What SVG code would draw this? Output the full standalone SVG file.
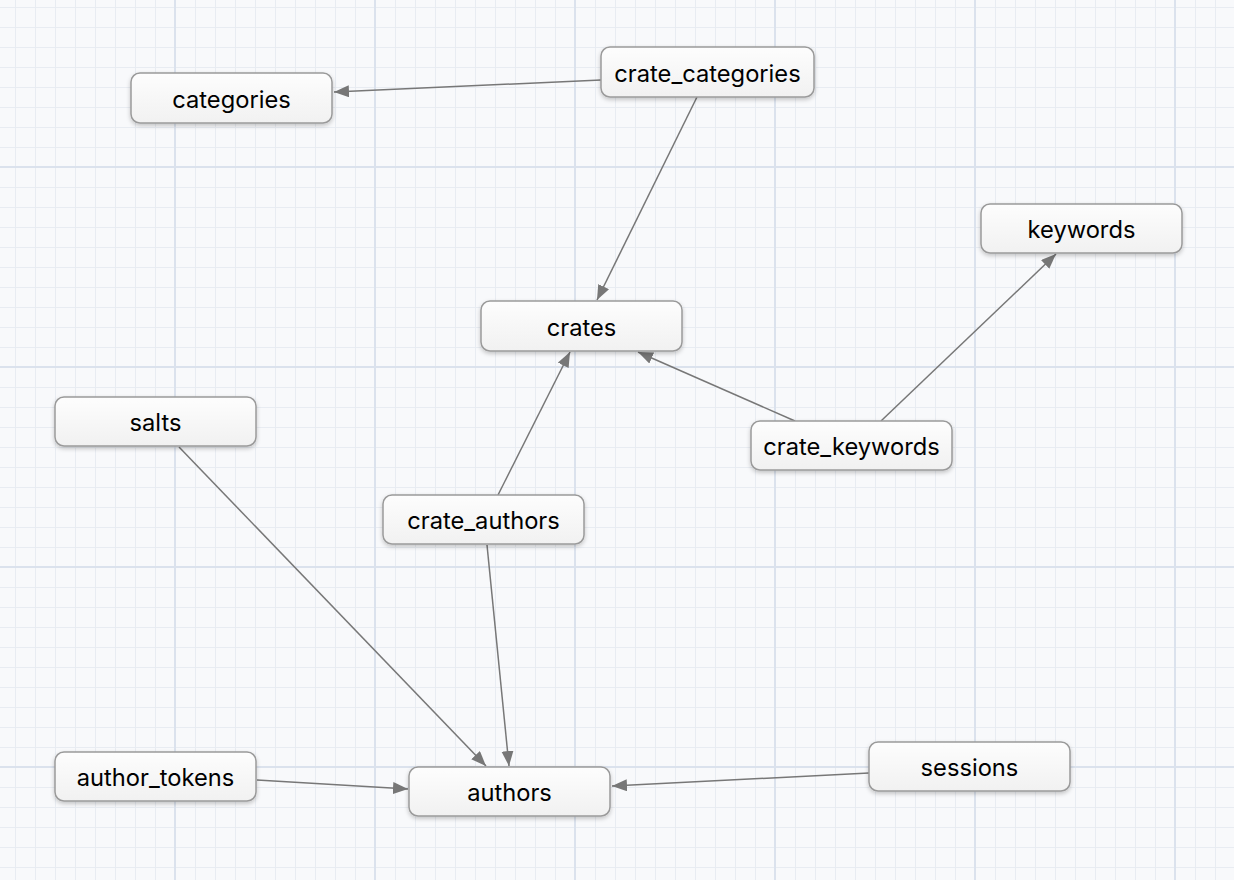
<svg xmlns="http://www.w3.org/2000/svg" width="1234" height="880" viewBox="0 0 1234 880">
<style>
.node rect{fill:url(#nodeFill);stroke:#9a9a9a;stroke-width:1.5;filter:url(#shadow)}
.node text{font-family:Inter,"Liberation Sans",Arial,sans-serif;font-size:23.7px;fill:#000;text-anchor:middle}
.edge{stroke:#777;stroke-width:1.5;fill:none;marker-end:url(#arrow)}
</style>
<defs>
<linearGradient id="nodeFill" x1="0" y1="0" x2="0" y2="1">
<stop offset="0" stop-color="#fdfdfd"/>
<stop offset="1" stop-color="#f1f1f1"/>
</linearGradient>
<filter id="shadow" x="-10%" y="-20%" width="120%" height="160%">
<feDropShadow dx="0" dy="2" stdDeviation="2" flood-color="#000" flood-opacity="0.22"/>
</filter>
<marker id="arrow" markerUnits="userSpaceOnUse" markerWidth="16" markerHeight="14" refX="15" refY="6" orient="auto">
<path d="M0,0 L15,6 L0,12 Z" fill="#777"/>
</marker>
<pattern id="minor" patternUnits="userSpaceOnUse" x="15" y="7" width="20" height="20">
<path d="M0.5,0 V20 M0,0.5 H20" stroke="#e8ecf2" stroke-width="1" fill="none"/>
</pattern>
<pattern id="major" patternUnits="userSpaceOnUse" x="174" y="166" width="200" height="200">
<path d="M1,0 V200 M0,1 H200" stroke="#dbe2ed" stroke-width="2" fill="none"/>
</pattern>
</defs>
<rect width="1234" height="880" fill="#f8f9fb"/>
<rect width="1234" height="880" fill="url(#minor)"/>
<rect width="1234" height="880" fill="url(#major)"/>
<g id="connectors">
<line class="edge" x1="601" y1="80" x2="334" y2="92"/>
<line class="edge" x1="697" y1="97" x2="597" y2="300"/>
<line class="edge" x1="795" y1="421" x2="638" y2="352"/>
<line class="edge" x1="881" y1="421" x2="1056" y2="254"/>
<line class="edge" x1="498" y1="495" x2="570" y2="352"/>
<line class="edge" x1="487" y1="545" x2="509" y2="766"/>
<line class="edge" x1="179" y1="447" x2="486" y2="766"/>
<line class="edge" x1="257" y1="780" x2="408" y2="789"/>
<line class="edge" x1="869" y1="773" x2="612" y2="786"/>
</g>
<g id="categories" class="node"><rect x="131" y="73" width="201" height="50" rx="9"/><text x="231.5" y="107.5">categories</text></g>
<g id="crate_categories" class="node"><rect x="601" y="47" width="213" height="50" rx="9"/><text x="707.5" y="81.5">crate_categories</text></g>
<g id="keywords" class="node"><rect x="981" y="204" width="201" height="49" rx="9"/><text x="1081.5" y="238">keywords</text></g>
<g id="crates" class="node"><rect x="481" y="301" width="201" height="50" rx="9"/><text x="581.5" y="335.5">crates</text></g>
<g id="salts" class="node"><rect x="55" y="397" width="201" height="49" rx="9"/><text x="155.5" y="431">salts</text></g>
<g id="crate_keywords" class="node"><rect x="751" y="421" width="201" height="49" rx="9"/><text x="851.5" y="455">crate_keywords</text></g>
<g id="crate_authors" class="node"><rect x="383" y="495" width="201" height="49" rx="9"/><text x="483.5" y="529">crate_authors</text></g>
<g id="author_tokens" class="node"><rect x="55" y="752" width="201" height="49" rx="9"/><text x="155.5" y="786">author_tokens</text></g>
<g id="authors" class="node"><rect x="409" y="767" width="201" height="49" rx="9"/><text x="509.5" y="801">authors</text></g>
<g id="sessions" class="node"><rect x="869" y="742" width="201" height="49" rx="9"/><text x="969.5" y="776">sessions</text></g>
</svg>
